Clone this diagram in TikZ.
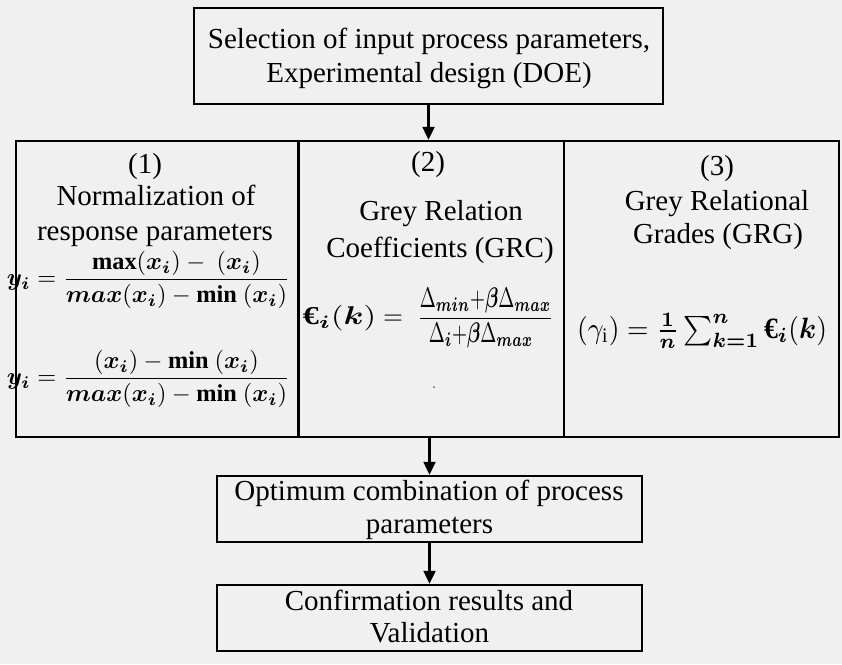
\documentclass[tikz,border=0pt]{standalone}
\usepackage{amsmath}
\usepackage{bm}
\usepackage{graphicx}
\usepackage{fontspec}
\setmainfont{Liberation Serif}
\usetikzlibrary{arrows.meta}
\definecolor{bgc}{RGB}{240,240,240}
\newcommand{\eur}{\mbox{\textbf{€}}}
\newcommand{\smallpart}[1]{\scalebox{0.75}[1.1]{$#1$}}
\begin{document}
\begin{tikzpicture}[x=1pt,y=-1pt,
  box/.style={draw=black,line width=2.4pt,inner sep=0pt},
  txt/.style={anchor=base,inner sep=0pt,font=\fontsize{29}{34}\selectfont},
  fml/.style={anchor=center,inner sep=0pt},
  arr/.style={line width=2.2pt,-{Triangle[length=13pt,width=12pt]}}]
\fill[bgc] (0,0) rectangle (842,664);
\useasboundingbox (0,0) rectangle (842,664);
% boxes
\node[box,minimum width=469pt,minimum height=96pt] (top) at (428.5,56) {};
\node[box,minimum width=282.5pt,minimum height=296pt] (c1) at (157.25,289) {};
\node[box,minimum width=265.5pt,minimum height=296pt] (c2) at (431.25,289) {};
\node[box,minimum width=275pt,minimum height=296pt] (c3) at (701.5,289) {};
\node[box,minimum width=425pt,minimum height=66pt] (opt) at (429.5,509) {};
\node[box,minimum width=425pt,minimum height=66pt] (conf) at (429.5,618) {};
% top text
\node[txt] (t1) at (429,48) {Selection of input process parameters,};
\node[txt] (t2) at (429,82) {Experimental design (DOE)};
% column 1
\node[txt] (a1) at (145,173) {(1)};
\node[txt] (a2) at (156,205) {Normalization of};
\node[txt] (a3) at (155,240) {response parameters};
\node[fml] (f1) at (148.5,280) {\resizebox{283pt}{!}{$\bm{y_i} = \dfrac{\mathbf{max}(\bm{x_i}) - \ (\bm{x_i})}{\bm{max}(\bm{x_i}) - \mathbf{min}\ (\bm{x_i})}$}};
\node[fml] (f2) at (148.5,379) {\resizebox{283pt}{!}{$\bm{y_i} = \dfrac{(\bm{x_i}) - \mathbf{min}\ (\bm{x_i})}{\bm{max}(\bm{x_i}) - \mathbf{min}\ (\bm{x_i})}$}};
% column 2
\node[txt] (b1) at (428,171) {(2)};
\node[txt] (b2) at (441,220) {Grey Relation};
\node[txt] (b3) at (440,257) {Coefficients (GRC)};
\node[fml] (f3) at (428.5,318) {\resizebox{251pt}{!}{$\scalebox{1.25}[1.0]{$\eur_{\bm{i}}(\bm{k})$} = \ \dfrac{\smallpart{\Delta_{\bm{min}} {+} \bm{\beta}\Delta_{\bm{max}}}}{\smallpart{\Delta_{\bm{i}} {+} \bm{\beta}\Delta_{\bm{max}}}}$}};
\fill[black!60] (434,387) circle (1pt);
% column 3
\node[txt] (d1) at (717,175) {(3)};
\node[txt] (d2) at (717,210) {Grey Relational};
\node[txt] (d3) at (718,243) {Grades (GRG)};
\node[fml] (f4) at (702,331) {\resizebox*{250pt}{35pt}{$(\gamma_{\mathrm{i}}) = \tfrac{\bm{1}}{\bm{n}}\sum\nolimits_{\bm{k=1}}^{\bm{n}} \eur_{\bm{i}}(\bm{k})$}};
% bottom texts
\node[txt] (o1) at (429,500) {Optimum combination of process};
\node[txt] (o2) at (429.5,533) {parameters};
\node[txt] (v1) at (429,610) {Confirmation results and};
\node[txt] (v2) at (429.5,642) {Validation};
% arrows
\draw[arr] (top.south) -- (top.south |- c2.north);
\draw[arr] (opt.north |- c2.south) -- (opt.north);
\draw[arr] (opt.south) -- (conf.north);
\end{tikzpicture}
\end{document}
